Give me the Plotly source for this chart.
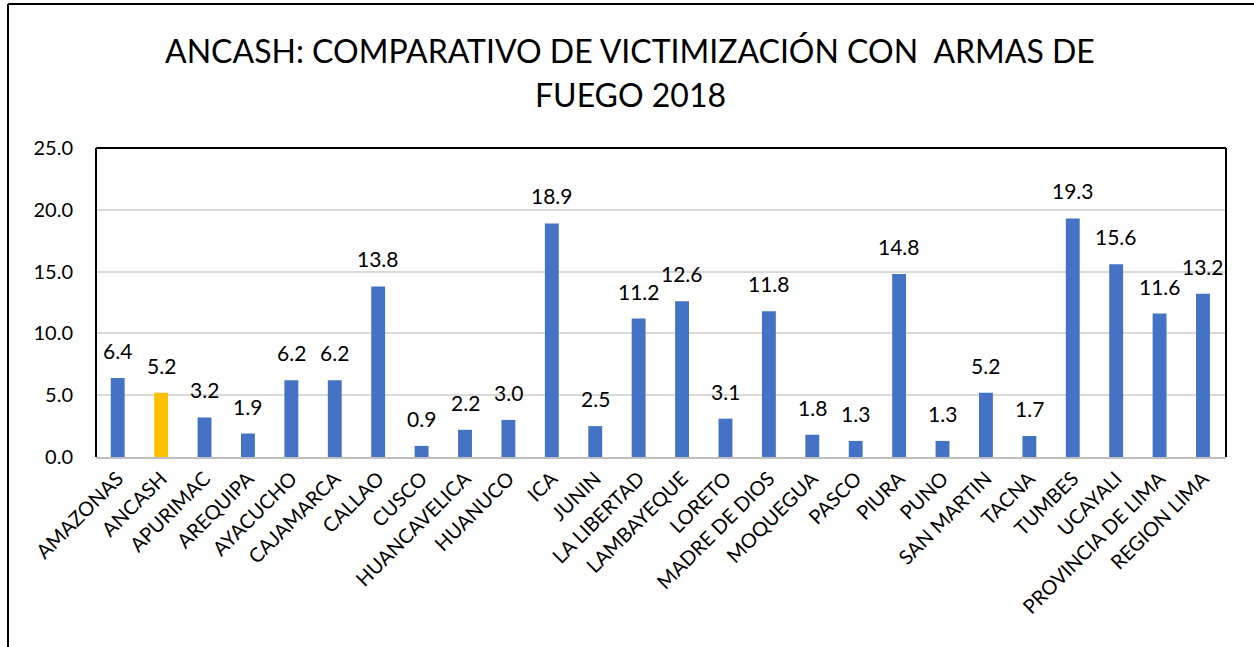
import plotly.graph_objects as go

categories = ["AMAZONAS", "ANCASH", "APURIMAC", "AREQUIPA", "AYACUCHO", "CAJAMARCA",
              "CALLAO", "CUSCO", "HUANCAVELICA", "HUANUCO", "ICA", "JUNIN", "LA LIBERTAD",
              "LAMBAYEQUE", "LORETO", "MADRE DE DIOS", "MOQUEGUA", "PASCO", "PIURA", "PUNO",
              "SAN MARTIN", "TACNA", "TUMBES", "UCAYALI", "PROVINCIA DE LIMA", "REGION LIMA"]
values = [6.4, 5.2, 3.2, 1.9, 6.2, 6.2, 13.8, 0.9, 2.2, 3.0, 18.9, 2.5, 11.2, 12.6, 3.1,
          11.8, 1.8, 1.3, 14.8, 1.3, 5.2, 1.7, 19.3, 15.6, 11.6, 13.2]
highlight = "ANCASH"
y_ticks = [0, 5, 10, 15, 20, 25]
title_lines = ["ANCASH: COMPARATIVO DE VICTIMIZACIÓN CON  ARMAS DE", "FUEGO 2018"]

colors = ["#FFC000" if c == highlight else "#4472C4" for c in categories]

W, H = 1254, 647
ml, mr, mt, mb = 96, 28, 148, 190
pw, ph = W - ml - mr, H - mt - mb
FONT = "Lato, 'Open Sans', sans-serif"

fig = go.Figure()
fig.add_trace(go.Bar(x=categories, y=values, marker_color=colors, width=0.32,
                     marker_line_width=0, showlegend=False, hoverinfo="x+y"))

for c, v in zip(categories, values):
    fig.add_annotation(x=c, y=v, text=f"{v:.1f}", showarrow=False, yanchor="bottom",
                       yshift=13, font=dict(size=21, color="#000", family=FONT))

def px_x(p):
    return (p - ml) / pw

def px_y(p):
    return (H - mb - p) / ph

for line, ypix in zip(title_lines, [50, 95]):
    fig.add_annotation(xref="paper", yref="paper", x=px_x(630), y=px_y(ypix), text=line,
                       showarrow=False, xanchor="center", yanchor="middle",
                       font=dict(size=32, color="#000", family=FONT))

shapes = [
    dict(type="line", xref="paper", yref="paper", x0=0, x1=0, y0=0, y1=1,
         line=dict(color="#000", width=2)),
    dict(type="line", xref="paper", yref="paper", x0=0, x1=1, y0=1, y1=1,
         line=dict(color="#000", width=2)),
    dict(type="line", xref="paper", yref="paper", x0=1, x1=1, y0=0, y1=1,
         line=dict(color="#000", width=2)),
    dict(type="line", xref="paper", yref="paper", x0=px_x(8), x1=px_x(8), y0=px_y(4), y1=px_y(647),
         line=dict(color="#000", width=2)),
    dict(type="line", xref="paper", yref="paper", x0=px_x(8), x1=px_x(1254), y0=px_y(4), y1=px_y(4),
         line=dict(color="#000", width=2)),
]

fig.update_layout(
    width=W, height=H,
    margin=dict(l=ml, r=mr, t=mt, b=mb, autoexpand=False),
    paper_bgcolor="white", plot_bgcolor="white",
    font=dict(family=FONT, color="#000"),
    shapes=shapes,
    xaxis=dict(tickangle=-45, tickfont=dict(size=20, color="#000"), showgrid=False,
               showline=True, linecolor="#bfbfbf", linewidth=2, ticks="", automargin=False),
    yaxis=dict(range=[0, 25], tickvals=y_ticks, ticktext=[f"{t:.1f}" for t in y_ticks],
               tickfont=dict(size=20, color="#000"), showgrid=True, gridcolor="#d9d9d9",
               gridwidth=1.5, zeroline=False, showline=False, ticks="", ticklabelstandoff=22,
               automargin=False),
)

fig.write_html("out.html", config={"displayModeBar": False},
               post_script="document.body.style.margin='0';document.body.style.overflow='hidden';")
